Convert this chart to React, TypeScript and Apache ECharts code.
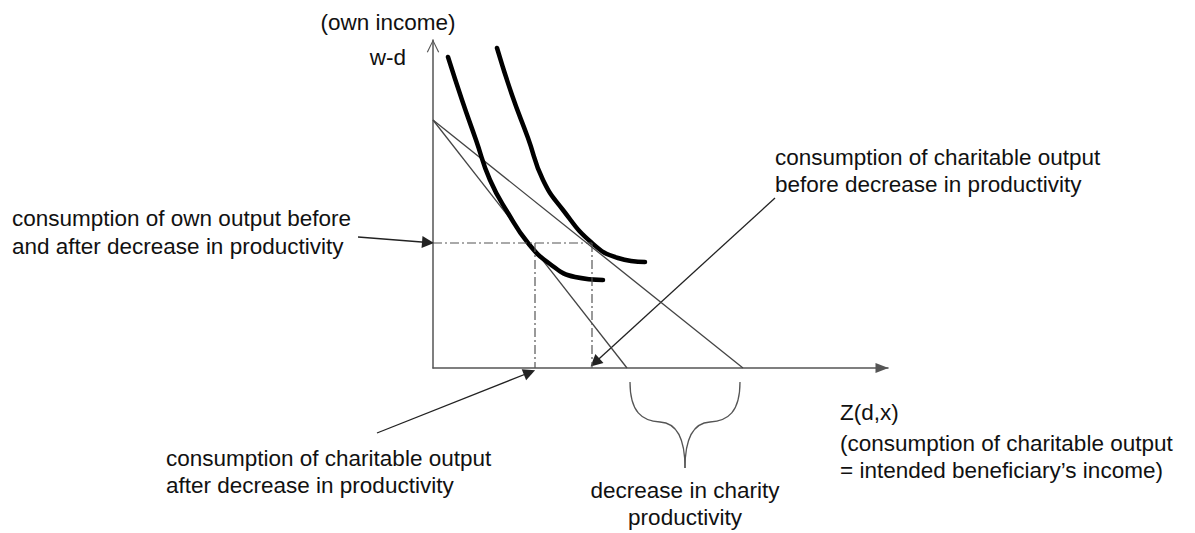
import React, { useEffect, useRef } from "react";
import * as echarts from "echarts";

// units: 1 unit = 10 px on both axes
const xMax = 45.5;
const yMax = 32.8;
const budgetIntercept = 24.8;
const budgetAfterZ = 19.4;
const budgetBeforeZ = 31.0;
const curveLow: number[][] = [
  [1.5, 31.1], [2.9, 26.8], [4.3, 22.8], [5.7, 18.8], [7.5, 15.5], [9.5, 12.5],
  [11.7, 10.4], [14.2, 9.1], [17.0, 8.8],
];
const curveHigh: number[][] = [
  [6.4, 32.0], [7.9, 27.3], [9.5, 23.0], [11.0, 18.8], [13.0, 15.8], [15.9, 12.5],
  [18.5, 11.0], [21.2, 10.6],
];
const ownLevel = 12.5;
const zAfter = 10.2;
const zBefore = 15.9;
// annotation arrows: [from, to]
const arrowOwn = [[-7.5, 13.1], [-0.5, 12.55]];
const arrowBefore = [[34.2, 17.0], [16.2, 0.55]];
const arrowAfter = [[-5.6, -6.5], [9.65, -0.45]];

const FONT = "Liberation Sans, Arial, sans-serif";
const FS = 22.5;
const TXT = "#111";

export default function App() {
  const ref = useRef<HTMLDivElement>(null);
  useEffect(() => {
    if (!ref.current) return;
    const chart = echarts.init(ref.current, null, { renderer: "svg" });
    const dashDot = { color: "#555", width: 1.2, type: [9, 3, 2, 3] as any };
    const text = (x: number, y: number, t: string, align = "left") => ({
      type: "text",
      x,
      y,
      style: {
        text: t,
        fill: TXT,
        font: `${FS}px ${FONT}`,
        textAlign: align,
        textVerticalAlign: "middle",
      },
    });
    const curveSeries = (data: number[][]) => ({
      type: "line",
      data,
      smooth: 0.5,
      symbol: "none",
      lineStyle: { color: "#000", width: 4.5, cap: "round" },
    });
    chart.setOption({
      animation: false,
      backgroundColor: "#fff",
      grid: { left: 433, top: 40, width: 455, height: 328 },
      xAxis: {
        type: "value",
        min: 0,
        max: xMax,
        axisLine: {
          show: true,
          symbol: ["none", "triangle"],
          symbolSize: [10, 13],
          symbolOffset: [0, -6],
          lineStyle: { color: "#555", width: 1.5 },
        },
        axisTick: { show: false },
        axisLabel: { show: false },
        splitLine: { show: false },
      },
      yAxis: {
        type: "value",
        min: 0,
        max: yMax,
        axisLine: {
          show: true,
          symbol: ["none", "path://M0,12 L6,0 L12,12 L11,12.6 L6,2.2 L1,12.6 Z"],
          symbolSize: [13, 13],
          symbolOffset: [0, -6],
          lineStyle: { color: "#555", width: 1.5 },
        },
        axisTick: { show: false },
        axisLabel: { show: false },
        splitLine: { show: false },
      },
      series: [
        {
          type: "line",
          data: [[0, budgetIntercept], [budgetAfterZ, 0]],
          symbol: "none",
          lineStyle: { color: "#444", width: 1.3 },
        },
        {
          type: "line",
          data: [[0, budgetIntercept], [budgetBeforeZ, 0]],
          symbol: "none",
          lineStyle: { color: "#444", width: 1.3 },
        },
        curveSeries(curveLow),
        curveSeries(curveHigh),
        { type: "line", data: [[0, ownLevel], [zBefore, ownLevel]], symbol: "none", lineStyle: dashDot },
        { type: "line", data: [[zAfter, ownLevel], [zAfter, 0]], symbol: "none", lineStyle: dashDot },
        { type: "line", data: [[zBefore, ownLevel], [zBefore, 0]], symbol: "none", lineStyle: dashDot },
        {
          type: "lines",
          coordinateSystem: "cartesian2d",
          clip: false,
          silent: true,
          symbol: ["none", "triangle"],
          symbolSize: 12,
          lineStyle: { color: "#222", width: 1.3, opacity: 1 },
          itemStyle: { color: "#000" },
          data: [
            { coords: arrowOwn },
            { coords: arrowBefore },
            { coords: arrowAfter },
          ],
        },
      ],
      graphic: [
        text(388, 22, "(own income)", "center"),
        text(406, 57, "w-d", "right"),
        text(12, 218, "consumption of own output before"),
        text(12, 246, "and after decrease in productivity"),
        text(775, 157, "consumption of charitable output"),
        text(775, 184, "before decrease in productivity"),
        text(840, 412, "Z(d,x)"),
        text(840, 443, "(consumption of charitable output"),
        text(840, 470, "= intended beneficiary\u2019s income)"),
        text(166, 458, "consumption of charitable output"),
        text(166, 485, "after decrease in productivity"),
        text(685, 490, "decrease in charity", "center"),
        text(685, 517, "productivity", "center"),
        {
          type: "group",
          children: [
            { type: "bezierCurve", shape: { x1: 630, y1: 382, cpx1: 630, cpy1: 412, cpx2: 642, cpy2: 421, x2: 660, y2: 422 }, style: { stroke: "#555", lineWidth: 1.3, fill: "none" } },
            { type: "bezierCurve", shape: { x1: 660, y1: 422, cpx1: 678, cpy1: 423, cpx2: 685, cpy2: 440, x2: 685, y2: 468 }, style: { stroke: "#555", lineWidth: 1.3, fill: "none" } },
            { type: "bezierCurve", shape: { x1: 740, y1: 382, cpx1: 740, cpy1: 412, cpx2: 728, cpy2: 421, x2: 710, y2: 422 }, style: { stroke: "#555", lineWidth: 1.3, fill: "none" } },
            { type: "bezierCurve", shape: { x1: 710, y1: 422, cpx1: 692, cpy1: 423, cpx2: 685, cpy2: 440, x2: 685, y2: 468 }, style: { stroke: "#555", lineWidth: 1.3, fill: "none" } },
          ],
        },
      ],
    });
    return () => chart.dispose();
  }, []);
  return (
    <div
      ref={ref}
      style={{ position: "fixed", left: 0, top: 0, width: 1195, height: 533, background: "#fff" }}
    />
  );
}
